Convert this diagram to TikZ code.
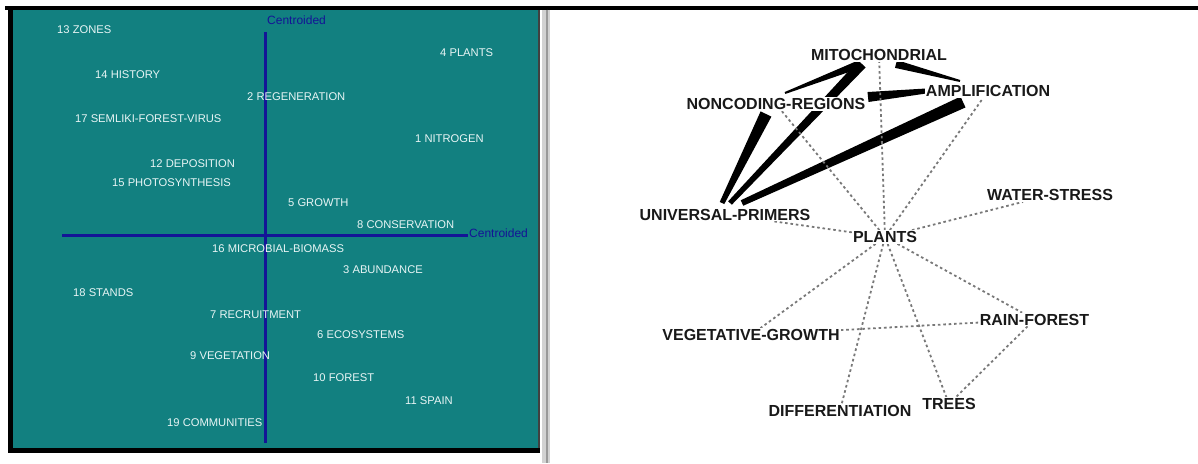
\documentclass[tikz,border=0pt]{standalone}
\usepackage{fontspec}
\setmainfont{Liberation Sans}
\usetikzlibrary{calc}
\definecolor{tealbg}{RGB}{18,128,128}
\definecolor{axisblue}{RGB}{20,20,150}
\definecolor{lbltxt}{RGB}{232,245,245}
\definecolor{dotgray}{RGB}{120,120,120}
\definecolor{wordtxt}{RGB}{25,25,25}
\pgfdeclarelayer{bg}
\pgfdeclarelayer{edges}
\pgfsetlayers{bg,edges,main}
\tikzset{
  term/.style={font=\fontsize{11.2}{12}\selectfont, text=lbltxt, inner sep=0pt, anchor=base west},
  axlbl/.style={font=\fontsize{12}{13}\selectfont, text=axisblue, inner sep=0pt, anchor=base west},
  axline/.style={draw=axisblue, line width=3pt},
  word/.style={font=\bfseries\fontsize{16}{18}\selectfont, text=wordtxt, fill=white, inner sep=1pt},
  weak/.style={draw=dotgray, line width=1.8pt, dash pattern=on 2.6pt off 2.8pt},
}
% tapered connector: node a, offset a, node b, offset b, half width at a, half width at b
\newcommand\tedge[6]{%
  \path ($(#1.center)+(#2)$) coordinate (ta) ($(#3.center)+(#4)$) coordinate (tb);
  \fill[black] ($(ta)!#5!90:(tb)$) -- ($(tb)!#6!-90:(ta)$) -- ($(tb)!#6!90:(ta)$) -- ($(ta)!#5!-90:(tb)$) -- cycle;}
\begin{document}
\begin{tikzpicture}[x=1pt,y=-1pt]
\useasboundingbox (0,0) rectangle (1198,463);
% ---------- frames ----------
\begin{pgfonlayer}{bg}
  \fill[black] (5,6) rectangle (1198,9.5);
  \fill[black] (8,6) rectangle (13,453);
  \fill[tealbg] (13,9.5) rectangle (538,448);
  \fill[black] (8,448) rectangle (540,453);
  \fill[black!75] (538,9.5) rectangle (540,448);
  \fill[gray!35] (542,9.5) rectangle (550,463);
  \draw[gray!80, line width=1.2pt] (547,9.5) -- (547,463);
\end{pgfonlayer}
% ---------- left panel: map ----------
\draw[axline] (265,32) -- (265,443);
\draw[axline] (62,235) -- (468,235);
\node[axlbl] (axtop) at (267,24) {Centroided};
\node[axlbl] (axright) at (469,237.5) {Centroided};
\node[term] (t13) at (57,33) {13 ZONES};
\node[term] (t4)  at (440,56) {4 PLANTS};
\node[term] (t14) at (95,78) {14 HISTORY};
\node[term] (t2)  at (247,100) {2 REGENERATION};
\node[term] (t17) at (75,122) {17 SEMLIKI-FOREST-VIRUS};
\node[term] (t1)  at (415,142) {1 NITROGEN};
\node[term] (t12) at (150,167) {12 DEPOSITION};
\node[term] (t15) at (112,186.5) {15 PHOTOSYNTHESIS};
\node[term] (t5)  at (288,206) {5 GROWTH};
\node[term] (t8)  at (357,228) {8 CONSERVATION};
\node[term] (t16) at (212,252) {16 MICROBIAL-BIOMASS};
\node[term] (t3)  at (343,273) {3 ABUNDANCE};
\node[term] (t18) at (73,296) {18 STANDS};
\node[term] (t7)  at (210,318) {7 RECRUITMENT};
\node[term] (t6)  at (317,338) {6 ECOSYSTEMS};
\node[term] (t9)  at (190,359) {9 VEGETATION};
\node[term] (t10) at (313,381) {10 FOREST};
\node[term] (t11) at (405,404) {11 SPAIN};
\node[term] (t19) at (167,426) {19 COMMUNITIES};
% ---------- right panel: network ----------
\node[word] (MITO) at (879,55) {MITOCHONDRIAL};
\node[word] (NC)   at (776,104) {NONCODING-REGIONS};
\node[word] (AMP)  at (988,91) {AMPLIFICATION};
\node[word] (UP)   at (725,214.5) {UNIVERSAL-PRIMERS};
\node[word] (WS)   at (1050,195) {WATER-STRESS};
\node[word] (PL)   at (885,237) {PLANTS};
\node[word] (VG)   at (751,335) {VEGETATIVE-GROWTH};
\node[word] (RF)   at (1034.5,319.5) {RAIN-FOREST};
\node[word] (DIFF) at (840,410.5) {DIFFERENTIATION};
\node[word] (TR)   at (949,404) {TREES};
\begin{pgfonlayer}{edges}
  \tedge{UP}{-3,-11.5}{NC}{-10,10}{2.5pt}{6pt}
  \tedge{UP}{5,-11.5}{MITO}{-17,9}{2.5pt}{5pt}
  \tedge{UP}{17,-11.5}{AMP}{-25,11}{3pt}{6pt}
  \tedge{NC}{9,-11}{MITO}{-19,9}{1pt}{4pt}
  \tedge{MITO}{17,9}{AMP}{-28,-10}{4pt}{1pt}
  \tedge{NC}{92,-7}{AMP}{-62,0}{5pt}{2.5pt}
  \draw[weak] (PL) -- (MITO);
  \draw[weak] (PL) -- (NC);
  \draw[weak] (PL) -- (AMP);
  \draw[weak] (PL) -- (UP);
  \draw[weak] (PL) -- (WS);
  \draw[weak] (PL) -- (VG);
  \draw[weak] (PL) -- (DIFF);
  \draw[weak] (PL) -- (TR);
  \draw[weak] (PL) -- (RF);
  \draw[weak] (VG) -- (RF);
  \draw[weak] (RF) -- (TR);
\end{pgfonlayer}
\end{tikzpicture}
\end{document}
